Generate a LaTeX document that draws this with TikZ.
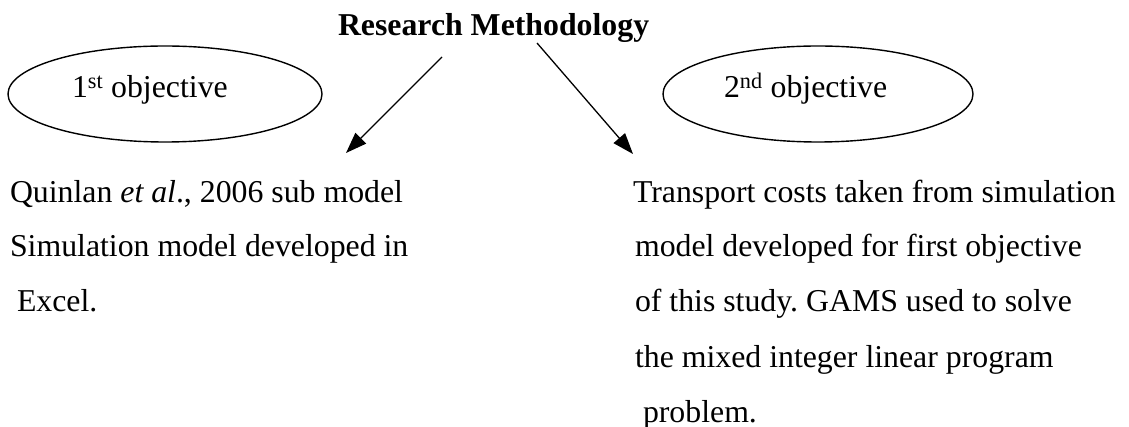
\documentclass[tikz,border=0pt]{standalone}
\usepackage{fontspec}
\setmainfont{Liberation Serif}
\usetikzlibrary{arrows.meta,shapes.geometric}
\frenchspacing
\begin{document}
\begin{tikzpicture}[x=1pt,y=-1pt,
  txt/.style={inner sep=0pt, outer sep=0pt, anchor=base west, font=\fontsize{31.8}{38}\selectfont},
  ttl/.style={inner sep=0pt, outer sep=0pt, anchor=base west, font=\fontsize{31.8}{38}\selectfont\bfseries},
  obj/.style={draw, ellipse, line width=1.4pt, inner sep=0pt},
  arr/.style={line width=1.3pt, -{Triangle[length=21pt,width=15pt]}}]
\useasboundingbox (0,0) rectangle (1129,427);
% title
\node[ttl] (title) at (338,36) {Research Methodology};
% ellipses
\node[obj, minimum width=314pt, minimum height=96pt] (o1) at (165,94) {};
\node[obj, minimum width=310pt, minimum height=96pt] (o2) at (818,94) {};
\node[txt] (o1t) at (72,98) {1\textsuperscript{st} objective};
\node[txt] (o2t) at (724,98) {2\textsuperscript{nd} objective};
% arrows
\coordinate (a1s) at (442,57);
\coordinate (a1e) at (346,153);
\coordinate (a2s) at (537,43);
\coordinate (a2e) at (633,154);
\draw[arr] (a1s) -- (a1e);
\draw[arr] (a2s) -- (a2e);
% left text
\node[txt] (l1) at (10,203) {Quinlan \textit{et al}., 2006 sub model};
\node[txt] (l2) at (10,257) {Simulation model developed in};
\node[txt] (l3) at (17,312) {Excel.};
% right text
\node[txt] (r1) at (633,203) {Transport costs taken from simulation};
\node[txt] (r2) at (635,257) {model developed for first objective};
\node[txt] (r3) at (635,312) {of this study. GAMS used to solve};
\node[txt] (r4) at (635,367) {the mixed integer linear program};
\node[txt] (r5) at (643,422) {problem.};
\end{tikzpicture}
\end{document}
